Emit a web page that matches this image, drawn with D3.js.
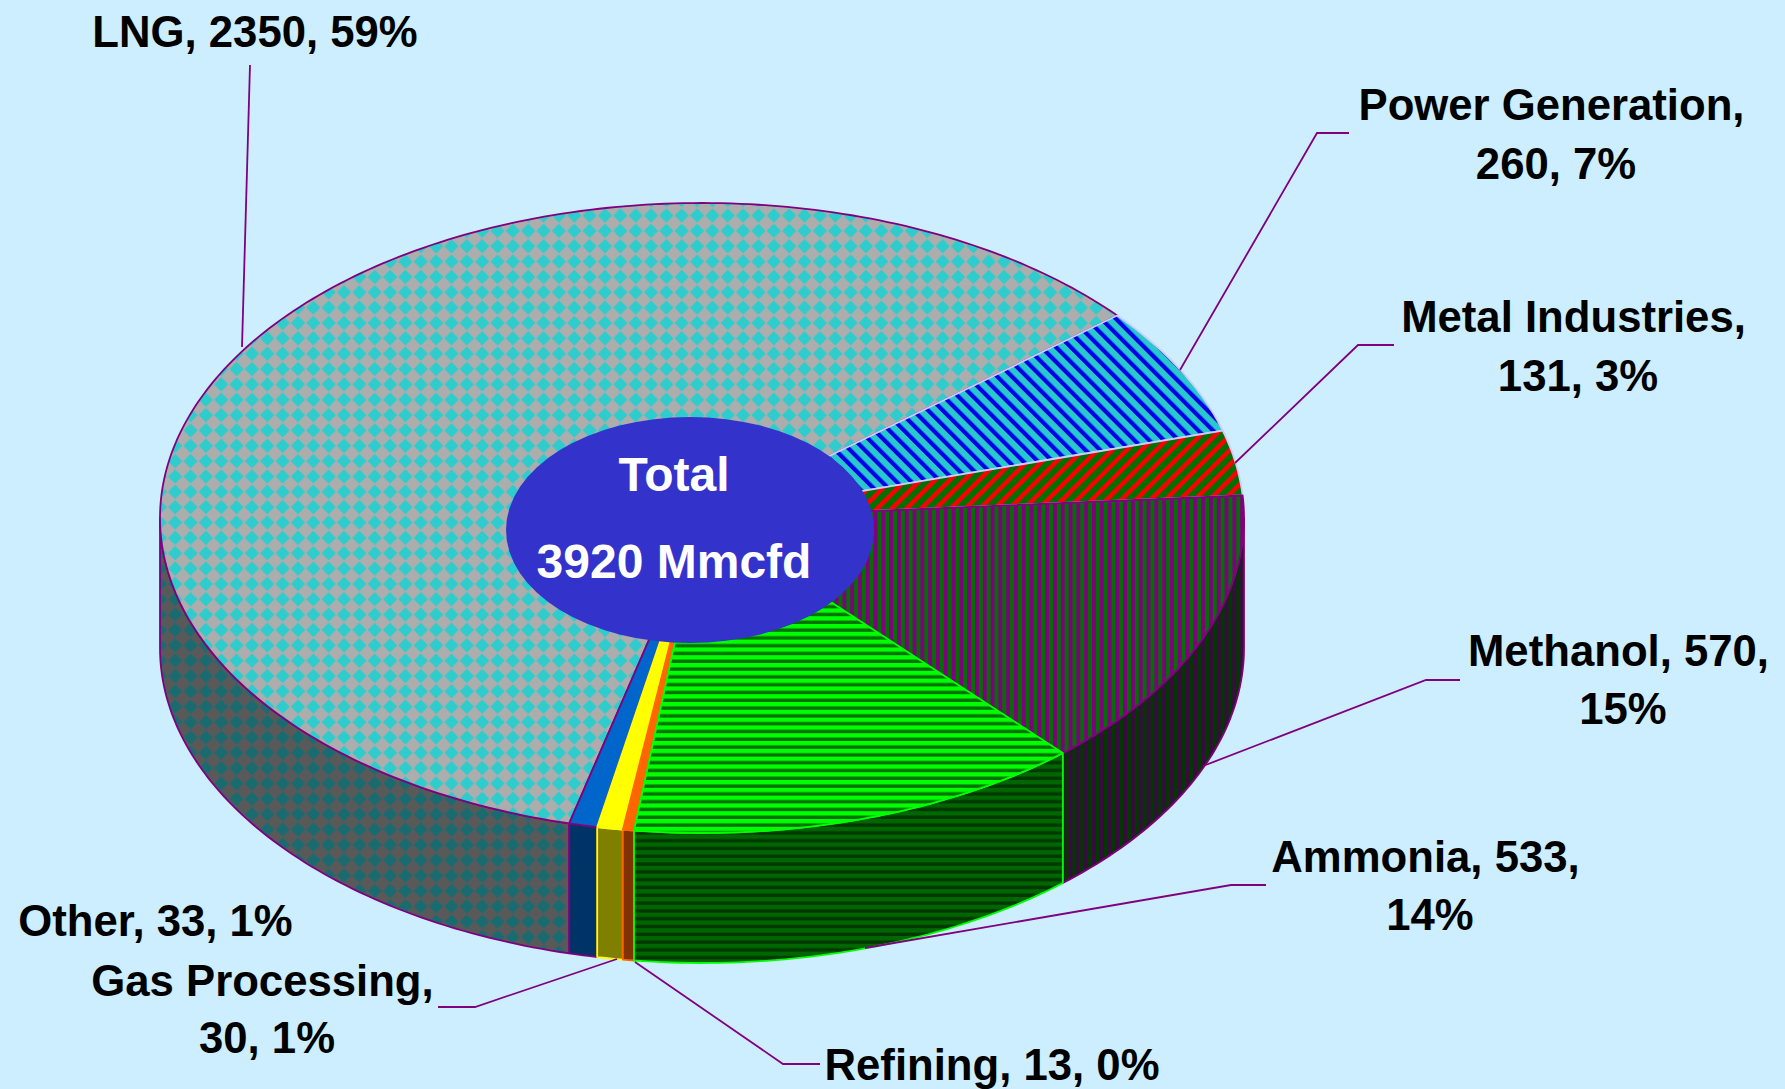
<!DOCTYPE html>
<html>
<head>
<meta charset="utf-8">
<script src="https://cdn.jsdelivr.net/npm/d3@7/dist/d3.min.js"></script>
<style>
  html, body { margin: 0; padding: 0; background: #cceeff; }
  svg { display: block; }
  text { font-family: "Liberation Sans", Arial, sans-serif; font-weight: bold; }
</style>
</head>
<body>
<div id="chart"></div>
<script>
// values, clockwise from the LNG / Power boundary
const categories = ['Power Generation', 'Metal Industries', 'Methanol', 'Ammonia', 'Refining', 'Gas Processing', 'Other', 'LNG'];
const values = [260, 131, 570, 533, 13, 30, 33, 2350];
const percents = [7, 3, 15, 14, 0, 1, 1, 59];
const totalLines = ['Total', '3920 Mmcfd'];

const width = 1785, height = 1089;
const cx = 702, cy = 518, rx = 542, ry = 315, depth = 130;
const rad = d => d * Math.PI / 180;

// fill, side fill and edge colour of every slice
const looks = {
  'Power Generation': { top: 'url(#power)', side: 'url(#powerSide)', edge: '#ccccff' },
  'Metal Industries': { top: 'url(#metal)', side: 'url(#metalSide)', edge: '#ccccff' },
  'Methanol': { top: 'url(#methanol)', side: 'url(#methanolSide)', edge: '#800080' },
  'Ammonia': { top: 'url(#ammonia)', side: 'url(#ammoniaSide)', edge: '#00ff00' },
  'Refining': { top: '#ff6600', side: '#803300', edge: '#ff6600' },
  'Gas Processing': { top: '#ffff00', side: '#808000', edge: '#ffff00' },
  'Other': { top: '#0066cc', side: '#003366', edge: '#800080' },
  'LNG': { top: 'url(#lng)', side: 'url(#lngSide)', edge: '#800080' }
};

// paint order, the later slice owns the shared edge
const paintOrder = ['LNG', 'Power Generation', 'Metal Industries', 'Methanol', 'Other', 'Gas Processing', 'Refining', 'Ammonia'];

// where the labels go. breakAt = how many comma parts stay on line one
const labelLayout = {
  'Power Generation': { x: 1556, y: 104, gap: 59, breakAt: 1, leader: [[1349, 133], [1317, 133], [1180, 370]] },
  'Metal Industries': { x: 1578, y: 316, gap: 59, breakAt: 1, leader: [[1394, 345], [1358, 345], [1235, 463]] },
  'Methanol': { x: 1623, y: 650, gap: 58, breakAt: 2, leader: [[1460, 680], [1426, 680], [1203, 766]] },
  'Ammonia': { x: 1430, y: 856, gap: 58, breakAt: 2, leader: [[1266, 885], [1231, 885], [865, 948]] },
  'Refining': { x: 992, y: 1064, gap: 0, breakAt: 3, leader: [[820, 1064], [783, 1064], [635, 962]] },
  'Gas Processing': { x: 267, y: 980, gap: 57, breakAt: 1, leader: [[438, 1007], [475, 1007], [617, 959]] },
  'Other': { x: 155.5, y: 920, gap: 0, breakAt: 3, leader: null },
  'LNG': { x: 255, y: 31, gap: 0, breakAt: 3, leader: [[250, 65], [242, 347]] }
};

const svg = d3.select('#chart').append('svg')
  .attr('width', width)
  .attr('height', height)
  .attr('viewBox', `0 0 ${width} ${height}`);

svg.append('rect').attr('width', width).attr('height', height).attr('fill', '#cceeff');

const defs = svg.append('defs');

function stripes(id, size, band, bg, fg, angle) {
  const p = defs.append('pattern')
    .attr('id', id)
    .attr('patternUnits', 'userSpaceOnUse')
    .attr('width', size)
    .attr('height', size)
    .attr('patternTransform', `rotate(${angle})`);
  p.append('rect').attr('width', size).attr('height', size).attr('fill', bg);
  p.append('rect').attr('width', band).attr('height', size).attr('fill', fg);
}

function diamonds(id, size, bg, fg) {
  const p = defs.append('pattern')
    .attr('id', id)
    .attr('patternUnits', 'userSpaceOnUse')
    .attr('width', size)
    .attr('height', size)
    .attr('patternTransform', 'translate(14,8.3)');
  p.append('rect').attr('width', size).attr('height', size).attr('fill', bg);
  const h = size / 2, r = h * 0.93;
  p.append('path').attr('d', `M${h},${h - r}L${h + r},${h}L${h},${h + r}L${h - r},${h}Z`).attr('fill', fg);
}

diamonds('lng', 15.35, '#adadad', '#2ecccc');
diamonds('lngSide', 15.35, '#595959', '#1a6b70');
stripes('power', 10.4, 4.2, '#29c8cc', '#0000e6', -45);
stripes('powerSide', 10.4, 4.2, '#146466', '#000073', -45);
stripes('metal', 10.4, 4.5, '#007000', '#ff0000', 45);
stripes('metalSide', 10.4, 4.5, '#003800', '#800000', 45);
stripes('methanol', 7.8, 3.9, '#007000', '#800080', 0);
stripes('methanolSide', 7.8, 3.9, '#003800', '#3a0a40', 0);
stripes('ammonia', 7.8, 4.4, '#007000', '#00ff00', 90);
stripes('ammoniaSide', 7.8, 4.4, '#003800', '#006600', 90);

const slices = d3.pie()
  .value(d => d.value)
  .sort(null)
  .startAngle(rad(50))
  .endAngle(rad(410))(categories.map((name, i) => ({ name, value: values[i], pct: percents[i] })));

const painted = paintOrder.map(name => slices.find(s => s.data.name === name));

const toXY = (a, drop = 0) => [cx + rx * Math.sin(a), cy - ry * Math.cos(a) + drop];
const line = d3.line();

function arcPoints(a0, a1, drop) {
  const n = Math.max(2, Math.ceil((a1 - a0) / rad(1)));
  return d3.range(n + 1).map(i => toXY(a0 + (a1 - a0) * i / n, drop));
}

// front wall, only the part between 90 and 270 degrees can be seen
const walls = svg.append('g');
painted.forEach(s => {
  const a0 = Math.max(s.startAngle, rad(90));
  const a1 = Math.min(s.endAngle, rad(270));
  if (a1 <= a0) return;
  const pts = arcPoints(a0, a1, 0).concat(arcPoints(a0, a1, depth).reverse());
  walls.append('path')
    .attr('d', line(pts) + 'Z')
    .attr('fill', looks[s.data.name].side)
    .attr('stroke', looks[s.data.name].edge)
    .attr('stroke-width', 1.8)
    .attr('stroke-linejoin', 'round');
});

// top face
const faces = svg.append('g');
painted.forEach(s => {
  const pts = [[cx, cy]].concat(arcPoints(s.startAngle, s.endAngle, 0));
  faces.append('path')
    .attr('d', line(pts) + 'Z')
    .attr('fill', looks[s.data.name].top)
    .attr('stroke', looks[s.data.name].edge)
    .attr('stroke-width', 1.8)
    .attr('stroke-linejoin', 'round');
});

// leader lines
svg.append('g').selectAll('path')
  .data(categories.filter(c => labelLayout[c].leader))
  .join('path')
  .attr('d', c => line(labelLayout[c].leader))
  .attr('fill', 'none')
  .attr('stroke', '#800080')
  .attr('stroke-width', 1.8);

// hub with the total
svg.append('ellipse')
  .attr('cx', 690).attr('cy', 530)
  .attr('rx', 184).attr('ry', 113)
  .attr('fill', '#3333cc');

svg.append('g').selectAll('text')
  .data(totalLines)
  .join('text')
  .attr('x', 674)
  .attr('y', (d, i) => 474 + i * 87)
  .attr('dy', '0.36em')
  .attr('text-anchor', 'middle')
  .attr('font-size', 48)
  .attr('fill', '#fff')
  .text(d => d);

// slice labels, the first of two rows sits a little left because of its comma
const labels = svg.append('g').attr('font-size', 43.7).attr('fill', '#000').attr('text-anchor', 'middle');
slices.forEach(s => {
  const l = labelLayout[s.data.name];
  const parts = [s.data.name, s.data.value, s.data.pct + '%'];
  const first = parts.slice(0, l.breakAt).join(', ');
  const rest = parts.slice(l.breakAt).join(', ');
  const rows = rest ? [first + ',', rest] : [first];
  rows.forEach((t, i) => {
    labels.append('text')
      .attr('x', rows.length > 1 && i === 0 ? l.x - 4.5 : l.x)
      .attr('y', l.y + i * l.gap)
      .attr('dy', '0.36em')
      .text(t);
  });
});
</script>
</body>
</html>
